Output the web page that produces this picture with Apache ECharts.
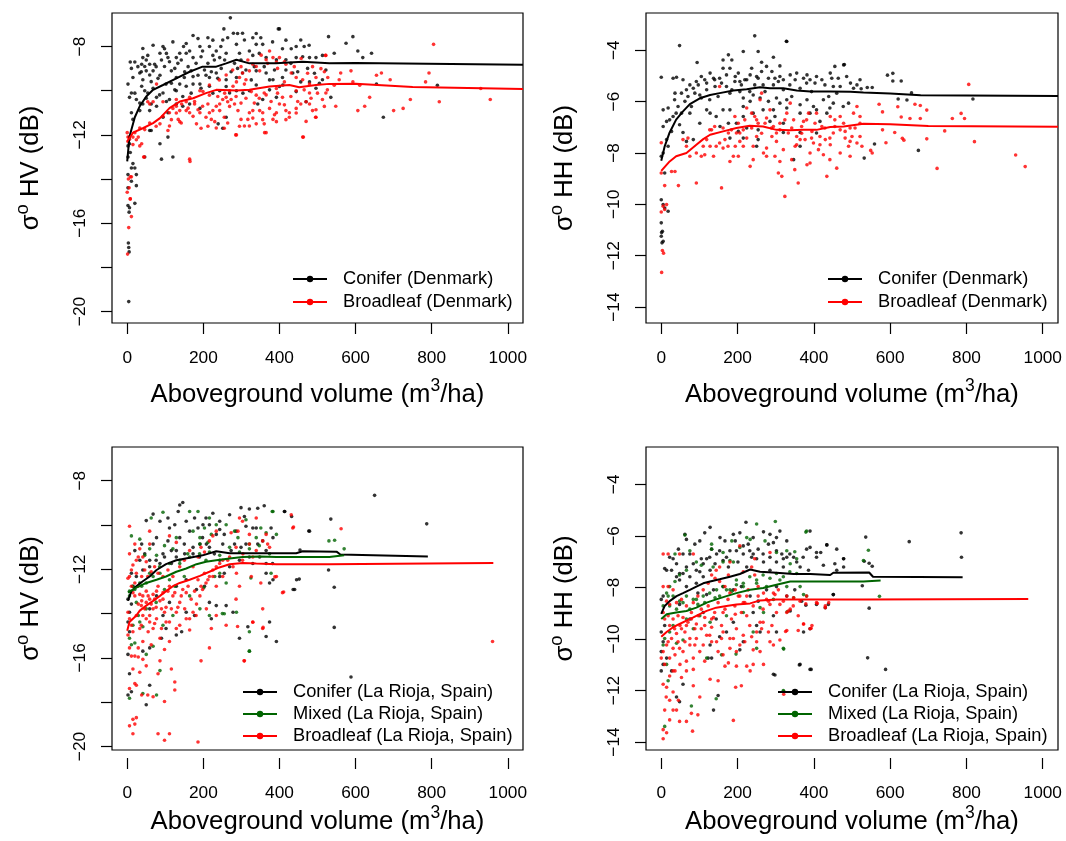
<!DOCTYPE html>
<html>
<head>
<meta charset="utf-8">
<script src="https://cdn.jsdelivr.net/npm/echarts@6/dist/echarts.min.js"></script>
<style>
  html, body { margin: 0; padding: 0; background: #fff; }
  #main { width: 1066px; height: 841px; }
</style>
</head>
<body>
<div id="main"></div>
<script>
// ---- panel 1: sigma HV, Denmark ----
const dkHvConifer = [
  [271,-6.7],[254,-7.2],[400,-7.2],[173,-7.5],[212,-7.6],[279,-7.4],[303,-7.4],[264,-7.6],[251,-7.7],[330,-7.6],[351,-7.6],[456,-7.7],
  [148,-8.0],[94,-8.0],[98,-8.1],[164,-8.2],[191,-8.0],[216,-8.0],[234,-8.2],[246,-8.0],[287,-7.9],[308,-7.7],[339,-7.9],[356,-7.9],
  [408,-8.1],[431,-8.1],[444,-8.0],[465,-8.0],[479,-8.5],[41,-8.5],[54,-8.4],[8,-8.7],[20,-8.7],[38,-8.8],[46,-8.9],[59,-8.8],[72,-8.8],
  [86,-8.3],[107,-8.5],[129,-8.5],[138,-8.3],[155,-8.3],[173,-8.5],[198,-8.2],[225,-8.4],[243,-8.5],[260,-8.3],[295,-8.3],[321,-8.2],
  [330,-8.4],[365,-8.5],[392,-8.6],[417,-8.6],[444,-8.5],[496,-8.5],[513,-8.4],
  [15,-9.4],[2,-9.7],[33,-9.2],[41,-9.5],[50,-9.1],[68,-9.1],[86,-9.3],[98,-8.9],[116,-9.1],[129,-9.4],[150,-9.4],[168,-9.1],[186,-9.3],
  [207,-9.3],[216,-9.4],[234,-9.2],[260,-9.5],[287,-9.4],[303,-9.2],[339,-9.1],[365,-9.2],[383,-9.5],[408,-9.4],[435,-9.2],[456,-9.6],
  [479,-9.6],[513,-9.5],
  [6,-10.3],[11,-10.1],[24,-10.4],[38,-9.8],[46,-10.0],[54,-10.1],[77,-10.3],[94,-10.1],[102,-9.7],[111,-10.4],[129,-10.0],[138,-9.7],
  [155,-9.8],[173,-9.7],[191,-9.7],[216,-9.8],[243,-10.0],[269,-10.1],[287,-10.0],[321,-10.0],[343,-10.6],[356,-10.4],[392,-10.3],[470,-10.5],
  [11,-11.0],[15,-11.3],[33,-10.9],[41,-10.6],[59,-10.9],[63,-10.6],[77,-10.7],[94,-11.2],[107,-11.0],[129,-10.6],[146,-10.7],[164,-10.6],
  [191,-10.8],[239,-11.5],[260,-11.2],[251,-11.7],[59,-11.8],[63,-11.8],[86,-12.4],[107,-12.1],[46,-13.0],[90,-13.1],[120,-13.0],
  [2,-12.5],[6,-12.4],[2,-13.0],[8,-12.8],[15,-13.3],[11,-13.5],[20,-13.5],[24,-13.8],[2,-13.8],[11,-14.1],[24,-14.3],[2,-14.4],
  [20,-15.1],[2,-15.2],[6,-15.3],
  [529,-7.55],[593,-7.55],[544,-8.3],[575,-7.85],[606,-8.2],[642,-8.3],[655,-9.7],[673,-11.2],[815,-9.75],[619,-8.5],[535,-10.3],
  [397,-7.2],[4,-19.55],[3,-16.9],[4,-17.1],[5,-17.3],[5,-15.5],
  [11,-8.99],[28,-8.91],[37,-9.14],[50,-8.61],[59,-9.29],[63,-9.59],[76,-8.91],[81,-9.44],[90,-8.61],[103,-8.31],[111,-8.69],[116,-9.66],
  [125,-8.99],[133,-8.76],[142,-8.61],[151,-9.14],[160,-8.91],[173,-9.36],[181,-8.76],[194,-8.46],[203,-9.06],[212,-8.76],[221,-9.14],
  [229,-8.61],[238,-9.44],[247,-8.99],[256,-8.61],[273,-9.14],[282,-8.76],[290,-8.99],[299,-8.61],[312,-9.06],[326,-9.51],[334,-8.91],
  [347,-8.31],[360,-8.91],[374,-9.51],[387,-9.06],[400,-9.81],[417,-9.06],[430,-8.76],[448,-9.14],[461,-8.46],[474,-8.99],[492,-9.21],
  [505,-9.66],[522,-9.06],[41,-8.09],[68,-7.94],[120,-7.79],[155,-7.86],[186,-7.64],[225,-7.71],[290,-7.41],[339,-7.41],[382,-7.79],
  [417,-7.71],[478,-7.94],[20,-10.11],[33,-10.56],[50,-10.34],[68,-9.89],[85,-10.19],[103,-10.49],[125,-9.96],[146,-10.26],[168,-10.11],
  [194,-9.89],[225,-10.11],[260,-9.81],[304,-10.11],[339,-9.74],[374,-9.96],[409,-9.74],[444,-10.04],[496,-9.89]
];
const dkHvBroad = [
  [0,-11.9],[2,-12.1],[6,-12.2],[15,-12.1],[20,-11.9],[29,-12.1],[33,-12.5],[38,-12.4],[43,-13.0],[8,-13.9],[11,-13.9],[8,-14.9],[0,-14.6],
  [2,-12.3],[5,-12.1],[3,-14.0],[5,-14.4],[8,-14.9],[11,-15.7],[4,-16.2],[1,-17.4],
  [54,-10.5],[59,-10.6],[77,-9.7],[86,-11.5],[107,-11.8],[111,-11.6],[134,-11.3],[138,-11.4],[164,-13.1],[138,-10.9],[155,-10.9],
  [182,-11.5],[194,-11.7],[207,-11.2],[216,-11.0],[225,-10.9],[234,-10.7],[243,-10.6],[251,-10.4],[260,-10.3],[269,-10.0],[278,-9.8],
  [287,-9.6],[295,-9.4],[303,-9.2],[312,-9.5],[321,-9.1],[330,-8.8],[339,-8.9],[348,-9.1],[365,-8.6],[374,-8.2],[383,-8.5],[392,-8.7],
  [400,-8.5],[417,-8.8],[431,-9.2],[444,-9.4],[461,-9.5],[479,-9.7],[496,-9.4],[509,-9.0],[522,-8.4],[527,-9.4],
  [111,-11.0],[120,-10.8],[129,-10.7],[143,-10.6],[155,-10.5],[164,-11.0],[177,-10.6],[191,-11.0],[198,-10.7],[212,-10.6],[221,-11.3],
  [230,-11.4],[243,-10.9],[255,-11.2],[264,-10.5],[273,-10.4],[282,-10.6],[291,-10.9],[299,-11.3],[308,-11.6],[317,-11.3],[321,-11.0],
  [330,-10.9],[339,-11.5],[348,-10.9],[356,-11.0],[365,-11.9],[374,-10.8],[383,-11.3],[392,-11.0],[400,-10.6],[408,-10.3],[417,-10.9],
  [426,-11.0],[444,-10.8],[456,-10.6],[470,-10.5],[479,-10.6],[487,-10.9],[496,-11.2],[513,-10.4],[522,-10.1],[287,-12.0],[255,-11.7],
  [321,-11.6],[360,-11.5],[392,-11.4],[426,-11.2],[461,-12.1],[308,-9.7],[339,-10.2],[360,-10.1],[392,-9.9],[413,-9.6],[444,-10.0],
  [479,-10.1],[216,-10.2],[191,-10.0],[164,-10.3],[129,-10.4],[94,-10.5],[68,-10.5],
  [805,-7.9],[793,-9.2],[784,-9.6],[691,-9.5],[668,-9.2],[655,-9.3],[637,-10.3],[624,-10.7],[606,-10.9],[700,-10.9],[725,-10.8],
  [744,-10.4],[820,-10.5],[929,-9.9],[954,-10.4],[557,-9.5],[588,-9.1],[561,-9.2],[521,-8.4],[548,-10.7],[593,-9.6],[611,-9.75],
  [544,-9.75],[495,-11.2],[463,-12.1],[361,-11.9],[285,-12.0],[165,-13.2],[45,-13.0],
  [242,-9.51],[260,-9.29],[277,-9.06],[299,-8.91],[317,-8.61],[352,-8.39],[369,-8.76],[395,-8.99],[413,-8.69],[439,-8.91],[457,-8.54],
  [474,-9.21],[487,-8.91],[518,-9.14],[216,-9.74],[199,-10.04],[177,-10.49],[160,-10.79],[129,-11.01],[116,-11.31],[94,-11.16],
  [76,-11.61],[59,-11.46],[46,-11.76],[33,-11.69],[24,-12.22],[15,-12.44],[238,-10.26],[256,-10.11],[269,-10.71],[286,-10.26],
  [299,-10.56],[312,-10.34],[326,-10.04],[334,-10.56],[347,-10.34],[365,-10.19],[378,-10.49],[395,-10.11],[413,-10.64],[430,-10.26],
  [448,-10.49],[465,-9.96],[483,-10.34],[500,-10.11],[518,-10.71],[526,-9.96],[212,-11.61],[234,-11.69],[264,-11.46],[295,-11.61],
  [330,-11.24],[356,-11.31],[387,-11.09],[417,-11.31],[444,-11.01],[470,-11.39],[496,-10.86],[173,-11.16],[186,-10.86],[142,-11.46]
];
const dkHvConiferLine = [
  [0,-13.2],[6,-12.07],[20,-11.2],[33,-10.7],[50,-10.26],[68,-9.96],[94,-9.74],[129,-9.44],[164,-9.14],[198,-8.91],[234,-8.91],
  [260,-8.76],[287,-8.6],[321,-8.76],[391,-8.76],[461,-8.69],[531,-8.76],[600,-8.74],[1040,-8.82]
];
const dkHvBroadLine = [
  [0,-12.3],[15,-11.9],[41,-11.7],[68,-11.47],[86,-11.24],[111,-10.79],[138,-10.49],[173,-10.34],[207,-10.11],[234,-9.96],[287,-9.99],
  [321,-9.96],[374,-9.81],[426,-9.74],[452,-9.84],[496,-9.74],[531,-9.69],[600,-9.68],[750,-9.83],[1040,-9.92]
];

// ---- panel 2: sigma HH, Denmark ----
const dkHhConifer = [
  [245,-3.44],[329,-3.66],[48,-3.82],[254,-4.05],[215,-4.05],[176,-4.18],[185,-4.38],[94,-4.48],[263,-4.47],[294,-4.27],[311,-4.61],
  [162,-4.38],[0,-5.05],[31,-5.09],[40,-5.05],[57,-5.15],[75,-5.35],[92,-5.22],[105,-5.02],[114,-5.15],[128,-4.89],[137,-5.09],
  [153,-5.09],[162,-4.7],[180,-4.7],[194,-5.02],[206,-5.22],[219,-5.15],[233,-4.96],[237,-4.7],[250,-5.02],[263,-4.83],[276,-4.63],
  [290,-4.83],[298,-5.09],[311,-5.02],[320,-5.15],[338,-4.96],[355,-4.89],[373,-5.09],[382,-4.96],[390,-5.15],[403,-5.28],[421,-5.15],
  [443,-4.89],[455,-4.63],[464,-5.09],[478,-4.57],[451,-5.41],[460,-5.67],[496,-5.28],[513,-5.35],
  [5,-6.32],[18,-6.25],[36,-5.67],[53,-5.67],[66,-5.54],[84,-5.48],[101,-5.74],[119,-5.54],[141,-5.41],[171,-5.41],[185,-5.54],
  [206,-5.61],[215,-5.86],[233,-5.99],[241,-5.74],[259,-5.86],[272,-5.61],[281,-5.99],[302,-5.86],[311,-6.06],[329,-5.93],[342,-5.8],
  [364,-6.12],[382,-5.93],[399,-6.19],[425,-5.93],[439,-5.8],
  [5,-6.97],[14,-6.77],[22,-6.71],[31,-6.58],[39,-6.45],[48,-6.9],[27,-7.16],[14,-7.48],[18,-7.74],[5,-8.0],[0,-8.13],[9,-8.78],
  [57,-7.2],[66,-7.55],[84,-7.48],[101,-6.84],[128,-6.45],[144,-6.58],[162,-6.32],[176,-6.84],[180,-7.42],[197,-6.84],[202,-7.16],
  [215,-6.58],[224,-7.03],[250,-7.74],[254,-7.48],[285,-6.77],[294,-6.32],[320,-7.2],[347,-8.26],[364,-7.2],[390,-6.45],[416,-6.77],
  [434,-6.45],[451,-6.06],[491,-6.06],
  [0,-9.82],[5,-10.01],[9,-10.14],[18,-10.27],[0,-10.72],[3,-11.05],[0,-11.24],[5,-11.44],[2,-11.5],[1,-11.1],
  [593,-4.97],[607,-4.9],[629,-5.2],[607,-5.2],[540,-5.45],[553,-5.45],[656,-5.66],[644,-5.94],[621,-5.9],[817,-5.9],[674,-7.9],
  [532,-8.2],[559,-7.65],[524,-5.5],[480,-4.56],[328,-3.65],
  [35,-5.93],[44,-6.19],[53,-6.45],[62,-5.99],[70,-5.8],[79,-6.19],[88,-5.67],[97,-5.35],[105,-5.86],[119,-5.28],[127,-5.93],
  [140,-5.15],[149,-5.8],[158,-5.28],[171,-4.96],[180,-5.67],[193,-5.22],[202,-4.89],[210,-5.35],[224,-5.15],[232,-5.61],[245,-5.35],
  [254,-5.09],[267,-5.35],[281,-5.09],[294,-5.35],[307,-5.22],[320,-5.54],[337,-5.35],[351,-5.15],[364,-5.48],[381,-5.28],[394,-5.61],
  [407,-5.02],[429,-5.35],[447,-5.09],[469,-5.41],[486,-5.02],[504,-5.48],[521,-5.15],[180,-6.32],[215,-6.19],[241,-6.45],[267,-6.32],
  [298,-6.58],[329,-6.25],[364,-6.45],[407,-6.32],[442,-6.25],[477,-6.19],[154,-6.97],[215,-7.42],[254,-7.1],[320,-6.84],[364,-7.74],
  [407,-7.22],[75,-6.45],[119,-6.32]
];
const dkHhBroad = [
  [0,-7.6],[0,-8.78],[9,-9.27],[5,-10.07],[14,-10.01],[9,-10.2],[0,-10.3],[3,-11.8],[6,-11.9],[1,-12.65],
  [27,-8.72],[36,-8.72],[45,-9.27],[57,-7.48],[70,-7.42],[75,-8.13],[92,-9.17],[105,-8.13],[114,-8.07],[119,-7.48],[132,-7.1],
  [137,-8.13],[144,-7.74],[153,-5.41],[158,-9.36],[162,-7.81],[167,-7.48],[180,-8.33],[189,-8.13],[197,-7.22],[206,-7.55],[215,-7.74],
  [219,-6.71],[224,-6.25],[233,-8.52],[241,-7.74],[250,-7.36],[254,-6.84],[259,-5.93],[263,-5.67],[268,-8.0],[276,-7.81],[285,-6.32],
  [294,-6.97],[302,-7.22],[307,-8.78],[316,-8.91],[320,-7.87],[324,-9.69],[329,-6.45],[338,-6.06],[347,-6.71],[351,-7.74],[359,-9.17],
  [364,-7.48],[373,-6.77],[382,-8.46],[390,-8.39],[399,-7.61],[407,-6.45],[412,-7.87],[421,-6.97],[430,-7.48],[434,-8.91],[443,-6.58],
  [451,-7.22],[460,-8.59],[469,-8.0],[478,-6.84],[491,-7.74],[500,-7.36],[513,-6.19],[521,-6.58],[526,-7.74],
  [128,-7.74],[153,-7.61],[176,-7.22],[194,-7.74],[202,-6.84],[215,-7.1],[237,-6.45],[245,-6.58],[272,-6.84],[290,-7.36],[298,-8.13],
  [311,-6.84],[333,-7.22],[342,-8.26],[355,-7.36],[368,-6.97],[377,-7.48],[386,-6.45],[395,-7.16],[416,-7.36],[425,-8.07],[443,-7.68],
  [455,-6.71],[469,-7.1],[482,-7.42],[495,-7.03],[504,-6.45],[513,-7.61],[521,-6.84],
  [806,-5.33],[696,-6.33],[679,-6.66],[652,-6.66],[629,-6.6],[665,-6.1],[679,-6.15],[620,-6.2],[580,-6.4],[580,-7.1],[589,-7.6],
  [612,-7.2],[632,-7.43],[636,-7.5],[696,-7.45],[743,-7.14],[763,-6.66],[786,-6.46],[795,-6.66],[821,-7.56],[723,-8.6],[929,-8.08],
  [954,-8.53],[553,-8.0],[571,-6.1],[549,-7.9],
  [127,-7.1],[140,-6.97],[162,-7.03],[184,-7.1],[193,-6.58],[206,-7.22],[224,-7.42],[237,-7.03],[250,-6.71],[263,-7.23],[276,-6.64],
  [289,-7.03],[302,-7.55],[311,-7.1],[324,-6.71],[342,-7.03],[355,-7.68],[368,-7.23],[381,-6.71],[394,-7.42],[403,-6.84],[416,-7.68],
  [429,-7.03],[442,-7.42],[455,-6.97],[469,-6.58],[482,-7.16],[495,-7.55],[508,-7.03],[521,-7.36],[175,-7.74],[202,-8.13],[241,-8.26],
  [276,-8.13],[311,-8.33],[350,-8.65],[390,-8.0],[442,-8.26],[495,-8.13],[92,-8.0],[110,-7.74],[66,-7.74]
];
const dkHhConiferLine = [
  [0,-8.3],[9,-7.74],[22,-7.2],[39,-6.7],[57,-6.38],[75,-6.1],[101,-5.87],[128,-5.74],[153,-5.67],[189,-5.57],[224,-5.52],[259,-5.44],
  [285,-5.48],[320,-5.48],[355,-5.57],[391,-5.61],[443,-5.61],[496,-5.62],[530,-5.65],[600,-5.68],[680,-5.75],[1040,-5.78]
];
const dkHhBroadLine = [
  [0,-8.7],[22,-8.33],[39,-8.13],[66,-8.0],[92,-7.68],[110,-7.46],[128,-7.29],[162,-7.16],[197,-7.03],[232,-6.94],[267,-6.97],
  [302,-7.1],[338,-7.12],[373,-7.1],[407,-7.1],[443,-6.99],[478,-6.97],[530,-6.86],[600,-6.88],[700,-6.95],[1040,-6.98]
];

// ---- panel 3: sigma HV, La Rioja ----
const esHvConifer = [
  [146,-9.05],[138,-9.17],[68,-9.59],[50,-9.89],[86,-9.92],[107,-9.77],[125,-10.08],[134,-9.47],[177,-9.77],[186,-10.23],[207,-9.77],
  [216,-10.08],[225,-9.55],[243,-10.3],[255,-10.53],[269,-9.62],[299,-9.29],[321,-9.35],[343,-9.32],[360,-9.2],[308,-9.7],[312,-10.15],
  [339,-10.23],[356,-10.83],[378,-10.23],[383,-10.68],[413,-9.47],[479,-10.38],[452,-12.6],[440,-13.08],[374,-12.78],[383,-12.63],
  [365,-12.33],[392,-15.49],[365,-15.26],[374,-14.59],[295,-15.34],[317,-14.81],[260,-13.83],[234,-13.83],[221,-14.44],[177,-14.29],
  [155,-14.14],[143,-15.04],[129,-15.19],[102,-14.89],[90,-15.34],[59,-15.79],[41,-15.94],[50,-18.42],[59,-17.52],[2,-17.97],
  [11,-17.82],[6,-16.99],[2,-16.09],[6,-15.04],[2,-14.59],[6,-14.14],[11,-13.76],[2,-13.53],[15,-12.93],[24,-12.48],[11,-12.33],
  [20,-11.28],[33,-11.73],[38,-10.98],[46,-11.43],[59,-11.73],[68,-10.98],[77,-10.68],[86,-11.88],[94,-11.43],[107,-10.83],[116,-11.28],
  [129,-11.58],[138,-10.68],[150,-10.98],[164,-10.38],[173,-11.43],[191,-10.98],[198,-10.68],[216,-11.13],[234,-10.53],[243,-11.73],
  [255,-12.33],[269,-12.03],[282,-10.98],[295,-11.73],[312,-10.98],[330,-11.88],[348,-11.58],[365,-11.88],[59,-13.98],[77,-13.38],
  [94,-14.29],[111,-13.68],[129,-12.93],[155,-12.63],[182,-13.08],[203,-12.93],[216,-13.68],[243,-12.48],[278,-14.14],
  [650,-8.72],[787,-10.04],[535,-9.82],[477,-10.37],[432,-9.7],[414,-9.47],[454,-11.25],[529,-12.18],[544,-12.98],[544,-14.84],
  [436,-13.08],[445,-12.63],[588,-17.14],
  [41,-12.18],[59,-12.03],[76,-11.73],[98,-11.58],[116,-11.88],[129,-11.28],[151,-11.43],[173,-11.13],[190,-11.58],[208,-10.98],
  [229,-11.43],[251,-10.98],[273,-11.28],[299,-11.13],[321,-11.58],[343,-10.98],[365,-11.28],[382,-11.88],[111,-10.23],[155,-9.92],
  [199,-10.08],[243,-9.92],[286,-10.38],[330,-10.23]
];
const esHvMixed = [
  [94,-9.5],[63,-9.77],[11,-10.6],[33,-10.75],[46,-11.5],[59,-11.2],[77,-11.5],[98,-11.05],[120,-11.2],[138,-11.88],[159,-11.43],
  [164,-9.47],[186,-9.47],[191,-10.98],[203,-10.23],[212,-10.9],[221,-10.53],[230,-12.48],[243,-12.33],[260,-12.78],[282,-10.38],
  [291,-10.68],[312,-9.85],[321,-10.98],[339,-10.68],[351,-10.23],[365,-10.45],[383,-9.47],[392,-10.53],[378,-12.33],[321,-15.04],
  [321,-15.94],[287,-14.14],[255,-14.21],[216,-14.29],[191,-13.98],[164,-13.38],[150,-12.48],[125,-12.93],[111,-12.63],[98,-13.08],
  [86,-16.84],[77,-17.97],[41,-17.9],[33,-14.59],[41,-14.81],[29,-14.29],[15,-14.74],[6,-15.34],[11,-15.64],[20,-15.56],[6,-13.38],
  [6,-13.16],[20,-13.08],[38,-12.93],[50,-12.78],[68,-12.48],[86,-12.33],[6,-18.12],[50,-16.09],[68,-15.71],[94,-14.74],[120,-14.29],
  [191,-10.68],[207,-11.73],[234,-10.08],
  [530,-10.83],[545,-10.8],[570,-11.2],[381,-9.47],[325,-12.55],[321,-15.94],[250,-14.2],[201,-13.0],
  [15,-12.93],[33,-12.78],[59,-12.33],[85,-12.03],[111,-11.88],[138,-11.73],[164,-11.58],[190,-11.43],[216,-11.35],[243,-11.5],
  [269,-11.13],[295,-11.35],[321,-11.2],[347,-11.05],[374,-11.43],[129,-10.68],[173,-10.38],[216,-9.77],[260,-10.08],[76,-13.68],
  [50,-13.98],[24,-13.68]
];
const esHvBroad = [
  [6,-10.15],[2,-12.56],[11,-12.18],[15,-11.95],[24,-11.73],[29,-11.58],[41,-11.58],[50,-11.8],[20,-13.38],[29,-13.76],[38,-13.61],
  [41,-13.38],[50,-13.68],[59,-13.53],[68,-13.31],[77,-13.16],[86,-13.61],[94,-13.23],[102,-13.91],[111,-12.93],[120,-13.38],
  [129,-14.14],[138,-13.68],[146,-13.08],[155,-13.23],[164,-14.44],[173,-14.14],[182,-13.76],[191,-13.38],[198,-13.08],[207,-12.78],
  [216,-12.48],[225,-12.18],[234,-12.93],[243,-11.88],[251,-12.48],[264,-11.73],[278,-12.03],[287,-12.33],[295,-12.93],[303,-11.73],
  [326,-12.48],[330,-14.59],[356,-14.89],[308,-16.39],[330,-11.58],[365,-10.53],[369,-10.98],[408,-13.23],[435,-10.23],[339,-9.77],
  [303,-9.92],[291,-10.38],[273,-10.45],[234,-10.38],[225,-10.6],[216,-10.83],[194,-11.13],[164,-11.28],[129,-10.9],[111,-10.6],
  [59,-10.38],[59,-10.98],[33,-11.2],[20,-10.98],[6,-11.43],[2,-14.14],[6,-14.44],[11,-14.74],[15,-15.04],[2,-15.19],[6,-15.79],
  [11,-16.17],[20,-16.17],[29,-16.21],[41,-16.32],[50,-16.62],[15,-16.77],[33,-16.92],[20,-17.44],[24,-17.52],[6,-17.67],[38,-17.97],
  [54,-17.97],[68,-18.05],[81,-16.99],[86,-16.39],[98,-15.86],[111,-15.49],[125,-17.37],[125,-17.74],[98,-18.27],[116,-16.77],
  [15,-19.1],[24,-19.02],[20,-19.32],[6,-19.4],[15,-19.77],[81,-19.77],[111,-19.77],[98,-20.07],[186,-20.15],[194,-16.39],[216,-15.79],
  [221,-14.89],[164,-14.96],[138,-14.74],[102,-14.59],[77,-14.44],[59,-14.59],[50,-14.44],[33,-14.89],[68,-14.89],[86,-15.34],
  [41,-15.49],[29,-15.79],[63,-15.64],
  [24,-12.33],[38,-12.48],[46,-12.18],[54,-12.48],[63,-12.26],[72,-12.03],[81,-12.33],[94,-12.48],[107,-12.18],[120,-12.48],
  [138,-12.03],[150,-11.73],[173,-12.03],[186,-11.58],[203,-11.35],
  [295,-9.77],[321,-10.53],[351,-12.78],[356,-13.98],[392,-12.48],[431,-9.62],
  [562,-10.27],[437,-10.19],[411,-13.2],[388,-12.5],[357,-14.84],[307,-16.39],[290,-14.8],[330,-14.6],[960,-15.49],
  [6,-12.48],[11,-12.93],[15,-13.23],[20,-12.78],[28,-12.93],[33,-13.31],[37,-13.83],[41,-14.29],[46,-13.98],[50,-13.16],[55,-13.38],
  [59,-14.29],[63,-13.76],[68,-13.98],[72,-13.53],[76,-13.91],[81,-12.93],[90,-13.98],[94,-13.53],[98,-14.14],[107,-13.16],
  [116,-13.98],[125,-13.23],[133,-13.91],[142,-13.38],[151,-13.98],[160,-12.93],[168,-13.53],[177,-13.16],[186,-12.63],[194,-12.93],
  [203,-12.33],[212,-12.63],[225,-12.48],[234,-12.03],[251,-11.73],[269,-11.58],[286,-11.13],[304,-11.43],[321,-10.98],[339,-11.28],
  [356,-10.83],[374,-11.13],[24,-14.29],[37,-14.74],[55,-15.04],[72,-14.66],[90,-14.89],[111,-14.59],[129,-14.89],[155,-14.44],
  [181,-14.29],[208,-13.98],[234,-14.29],[260,-14.74],[286,-13.53]
];
const esHvConiferLine = [
  [2,-13.6],[11,-13.16],[24,-12.93],[41,-12.7],[59,-12.48],[77,-12.18],[102,-11.91],[129,-11.73],[164,-11.61],[198,-11.5],[234,-11.31],
  [269,-11.4],[303,-11.4],[348,-11.4],[392,-11.4],[444,-11.4],[461,-11.31],[550,-11.33],[560,-11.46],[790,-11.55]
];
const esHvMixedLine = [
  [2,-13.23],[24,-13.0],[50,-12.78],[77,-12.63],[102,-12.48],[129,-12.26],[155,-12.11],[182,-11.91],[207,-11.8],[234,-11.73],
  [269,-11.65],[303,-11.58],[348,-11.55],[392,-11.58],[444,-11.58],[531,-11.58],[570,-11.5]
];
const esHvBroadLine = [
  [0,-15.0],[6,-14.59],[15,-14.44],[24,-14.29],[33,-14.06],[50,-13.83],[68,-13.61],[86,-13.38],[102,-13.16],[120,-12.93],[138,-12.78],
  [164,-12.63],[191,-12.45],[216,-12.26],[242,-12.06],[269,-11.91],[303,-11.85],[339,-11.88],[392,-11.91],[444,-11.91],[531,-11.91],
  [962,-11.85]
];

// ---- panel 4: sigma HH, La Rioja ----
const esHhConifer = [
  [128,-5.75],[114,-5.97],[62,-6.03],[66,-6.23],[45,-6.62],[57,-6.81],[75,-6.81],[88,-6.42],[105,-7.0],[119,-7.0],[132,-6.62],
  [153,-6.68],[167,-6.29],[180,-6.68],[194,-6.29],[206,-5.97],[222,-5.55],[215,-6.49],[228,-6.42],[241,-6.81],[254,-6.62],[268,-5.93],
  [281,-6.42],[294,-6.36],[302,-6.16],[311,-5.9],[316,-6.81],[329,-6.94],[347,-6.94],[381,-6.62],[390,-5.9],[407,-6.94],[434,-6.45],
  [460,-6.62],[478,-7.0],[451,-8.43],[430,-8.95],[390,-9.79],[373,-9.92],[364,-11.21],[390,-11.41],[294,-11.6],[302,-9.92],[259,-9.92],
  [250,-9.66],[215,-10.31],[206,-10.63],[189,-9.53],[171,-9.92],[153,-10.11],[128,-10.44],[132,-10.96],[123,-10.96],[137,-13.03],
  [149,-12.45],[57,-12.0],[48,-12.7],[40,-12.51],[27,-11.47],[14,-10.96],[0,-11.47],[5,-11.21],[0,-10.7],[5,-10.31],[0,-9.92],
  [9,-9.66],[0,-8.62],[5,-8.49],[9,-7.39],[14,-7.46],[27,-7.46],[22,-6.94],[31,-7.0],[40,-7.2],[48,-7.59],[66,-7.33],[84,-7.2],
  [101,-7.52],[110,-7.72],[128,-7.46],[141,-7.2],[162,-7.07],[176,-7.33],[201,-7.13],[224,-7.33],[237,-6.94],[268,-7.13],[285,-7.46],
  [302,-7.13],[320,-7.33],[364,-7.33],[386,-7.46],[425,-7.26],[460,-7.46],[478,-7.33],[48,-7.85],[66,-8.11],[92,-7.98],[96,-8.37],
  [119,-8.43],[137,-8.24],[162,-8.11],[189,-8.24],[210,-8.11],[233,-8.49],[254,-8.69],[276,-8.24],[302,-8.11],[329,-8.49],[350,-8.24],
  [368,-8.69],[407,-8.82],[48,-8.82],[75,-9.4],[110,-9.14],[144,-9.4],[241,-9.14],[294,-9.27],[338,-9.08],
  [536,-6.14],[650,-6.32],[786,-5.97],[787,-6.94],[545,-7.18],[553,-7.3],[532,-7.1],[478,-7.0],[455,-7.2],[434,-6.45],[418,-6.75],
  [527,-8.08],[545,-8.97],[541,-10.95],[588,-11.41],[393,-11.41],[362,-11.23],[298,-11.63],[438,-8.82],[451,-8.43],[379,-8.85],
  [40,-7.72],[57,-7.59],[75,-7.72],[92,-7.46],[110,-7.2],[127,-6.94],[145,-6.81],[171,-6.94],[197,-6.68],[215,-6.81],[232,-6.68],
  [250,-7.0],[267,-6.81],[285,-6.94],[302,-6.68],[320,-7.0],[337,-6.81],[355,-7.13],[372,-6.94],[390,-6.55],[407,-6.75],[101,-6.29],
  [154,-6.16],[189,-6.03],[241,-6.16],[285,-6.03],[329,-6.29]
];
const esHhMixed = [
  [62,-6.06],[132,-6.62],[162,-6.75],[132,-6.42],[206,-6.55],[250,-5.62],[299,-5.52],[350,-6.72],[329,-6.68],[355,-7.0],[381,-5.9],
  [233,-6.23],[189,-7.13],[162,-7.13],[105,-7.26],[92,-7.13],[66,-7.46],[48,-7.65],[36,-7.91],[22,-8.11],[14,-8.37],[5,-8.88],
  [18,-8.49],[31,-8.49],[48,-8.69],[66,-8.49],[84,-8.62],[96,-8.82],[114,-8.75],[141,-8.56],[153,-8.49],[171,-8.24],[185,-8.3],
  [197,-8.04],[215,-8.11],[250,-7.98],[276,-8.11],[311,-7.85],[329,-8.11],[364,-8.11],[373,-8.43],[381,-8.49],[347,-8.56],[294,-8.62],
  [259,-8.95],[215,-9.14],[171,-9.27],[128,-9.53],[84,-9.79],[57,-10.24],[40,-10.37],[22,-9.92],[9,-10.18],[5,-10.44],[14,-11.21],
  [18,-11.86],[9,-13.68],[79,-12.87],[144,-12.58],[119,-10.96],[158,-10.83],[241,-9.92],[268,-9.14],[320,-10.57],[320,-12.25],
  [338,-7.2],[302,-6.75],[272,-6.29],[224,-6.16],[185,-6.29],[75,-6.68],[36,-6.81],
  [379,-5.94],[543,-6.66],[530,-7.07],[572,-8.5],[321,-10.6],[321,-12.28],[330,-9.11],[250,-10.57],[196,-10.8],
  [22,-8.88],[40,-9.01],[57,-8.75],[75,-9.01],[92,-8.62],[110,-8.49],[127,-8.37],[145,-8.24],[162,-8.11],[180,-8.24],[197,-7.85],
  [215,-7.98],[232,-7.72],[250,-7.85],[267,-7.65],[285,-7.78],[302,-7.59],[320,-7.72],[337,-7.52],[355,-7.59],[31,-9.66],[66,-9.4],
  [101,-9.27],[136,-7.33],[180,-7.07]
];
const esHhBroad = [
  [5,-6.81],[18,-6.81],[48,-6.81],[5,-8.11],[18,-8.11],[31,-8.24],[14,-8.69],[22,-8.82],[40,-8.75],[53,-8.62],[66,-8.88],[84,-8.75],
  [96,-8.49],[110,-8.24],[123,-7.98],[132,-7.65],[141,-7.78],[153,-7.91],[167,-8.11],[180,-8.37],[194,-8.24],[206,-8.49],[215,-8.75],
  [224,-8.49],[237,-7.33],[245,-7.65],[254,-8.11],[268,-8.37],[276,-8.62],[285,-8.82],[298,-8.43],[307,-8.24],[320,-8.69],[333,-9.08],
  [347,-8.56],[359,-9.86],[373,-9.6],[390,-9.79],[395,-9.66],[407,-8.75],[430,-8.88],[439,-8.75],[338,-9.01],[329,-9.14],[302,-9.14],
  [290,-9.66],[281,-9.92],[263,-9.79],[250,-10.31],[237,-10.11],[219,-10.31],[206,-10.44],[197,-10.7],[180,-10.57],[167,-11.28],
  [176,-11.15],[197,-11.28],[224,-11.28],[241,-11.21],[162,-10.83],[149,-10.7],[132,-10.31],[119,-10.05],[105,-9.79],[92,-9.6],
  [79,-9.4],[66,-9.66],[53,-9.79],[40,-9.98],[27,-10.18],[14,-10.44],[5,-10.7],[0,-10.96],[9,-11.21],[22,-10.96],[36,-10.83],
  [48,-10.57],[62,-10.31],[75,-10.18],[88,-10.44],[101,-10.7],[114,-11.08],[84,-11.41],[66,-11.47],[53,-11.73],[36,-11.47],
  [22,-11.67],[5,-12.0],[14,-12.12],[31,-12.31],[45,-12.64],[22,-12.64],[9,-13.03],[40,-13.03],[22,-13.42],[5,-13.81],[14,-13.93],
  [5,-14.17],[66,-13.48],[79,-13.16],[96,-13.22],[82,-13.87],[48,-13.48],[189,-13.44],[101,-12.51],[84,-12.06],[128,-11.8],
  [149,-11.86],[195,-12.12],[210,-12.06],[233,-11.47],[268,-11.21],[294,-10.44],[311,-10.24],[329,-9.86],[359,-9.27],[285,-10.31],
  [259,-10.7],[241,-10.63],[189,-10.18],[158,-10.18],[132,-9.73],[114,-9.34],[137,-9.34],[162,-9.14],[194,-9.21],[224,-9.27],
  [259,-9.53],[144,-7.46],[176,-7.65],[215,-7.52],[245,-7.0],[206,-6.49],[180,-7.13],[153,-7.33],[285,-6.75],[84,-6.81],
  [379,-8.8],[393,-9.77],[373,-9.6],[326,-9.9],[430,-8.95],[409,-8.78],[321,-12.4],
  [5,-9.14],[9,-9.4],[18,-9.27],[22,-9.66],[31,-9.4],[35,-9.79],[44,-9.27],[49,-9.66],[57,-9.34],[62,-9.92],[70,-9.53],[79,-9.14],
  [88,-9.79],[97,-9.27],[105,-9.01],[114,-9.66],[123,-8.88],[132,-9.4],[140,-9.14],[149,-8.75],[158,-9.66],[167,-9.01],[175,-8.62],
  [184,-9.4],[193,-8.88],[202,-8.49],[210,-9.14],[219,-8.75],[228,-8.24],[241,-8.88],[254,-8.49],[267,-9.01],[281,-8.69],[294,-8.37],
  [311,-8.82],[329,-8.49],[346,-8.88],[364,-8.69],[381,-8.49],[18,-10.31],[31,-10.57],[44,-10.31],[57,-10.7],[75,-10.44],[92,-10.18],
  [110,-10.44],[127,-10.05],[145,-10.31],[162,-9.92],[180,-10.18],[197,-9.79],[215,-10.05],[232,-9.66],[250,-9.92],[267,-9.53],
  [31,-11.47],[49,-11.21],[66,-11.08],[84,-10.96],[13,-12.51],[31,-13.03]
];
const esHhConiferLine = [
  [0,-9.2],[9,-8.88],[22,-8.69],[40,-8.49],[57,-8.37],[75,-8.24],[92,-8.11],[110,-7.98],[128,-7.91],[153,-7.82],[180,-7.72],
  [206,-7.61],[233,-7.43],[259,-7.52],[302,-7.56],[347,-7.61],[391,-7.61],[443,-7.65],[451,-7.56],[545,-7.55],[555,-7.72],[790,-7.74]
];
const esHhMixedLine = [
  [0,-9.4],[14,-9.21],[39,-9.14],[66,-9.08],[92,-8.95],[119,-8.75],[144,-8.62],[171,-8.49],[197,-8.37],[233,-8.24],[267,-8.17],
  [302,-8.04],[338,-7.91],[373,-7.91],[443,-7.91],[530,-7.91],[575,-7.87]
];
const esHhBroadLine = [
  [0,-10.11],[14,-9.92],[31,-9.73],[48,-9.6],[66,-9.47],[84,-9.34],[101,-9.21],[119,-9.08],[144,-8.95],[171,-8.88],[197,-8.82],
  [233,-8.78],[259,-8.66],[302,-8.62],[347,-8.62],[434,-8.62],[530,-8.62],[962,-8.6]
];

const FONT = "'Liberation Sans', Arial, Helvetica, sans-serif";
const BLACK = '#000000';
const RED = '#ff0000';
const GREEN = '#006400';

// plot boxes (px) and their value ranges; R pads xlim c(0,1000) by 4 %
const boxes = [
  {left: 112, top: 13, width: 411, height: 310, yMin: -20.52, yMax: -6.48, tMin: -20, tMax: -8, pol: 'HV', every4: true},
  {left: 646, top: 13, width: 412, height: 310, yMin: -14.62, yMax: -2.55, tMin: -14, tMax: -4, pol: 'HH', every4: false},
  {left: 112, top: 447, width: 411, height: 311, yMin: -20.52, yMax: -6.48, tMin: -20, tMax: -8, pol: 'HV', every4: true},
  {left: 646, top: 447, width: 412, height: 311, yMin: -14.62, yMax: -2.55, tMin: -14, tMax: -4, pol: 'HH', every4: false}
];
const X_MIN = -40, X_MAX = 1040;

const minus = v => String(v).replace('-', '\u2212');
const supStyle = size => ({fontSize: size, lineHeight: 16, verticalAlign: 'top', color: BLACK, fontFamily: FONT});
const tickStyle = {show: true, inside: false, length: 11, lineStyle: {color: BLACK, width: 1.2}};
const hidden = {show: false};

const grid = [], xAxis = [], yAxis = [];

// boxed plot grids (index 0-3): hold the data and the axis titles
boxes.forEach((b, i) => {
  grid.push({left: b.left, top: b.top, width: b.width, height: b.height, show: true,
    borderColor: BLACK, borderWidth: 1.2, backgroundColor: 'transparent'});
  xAxis.push({
    type: 'value', gridIndex: i, min: X_MIN, max: X_MAX,
    axisLine: {show: false, onZero: false}, axisTick: hidden, axisLabel: hidden, splitLine: hidden,
    name: 'Aboveground volume (m{sup|3}/ha)', nameLocation: 'middle', nameGap: 54,
    nameTextStyle: {fontSize: 25.7, color: BLACK, fontFamily: FONT, lineHeight: 36, rich: {sup: supStyle(17.5)}}
  });
  yAxis.push({
    type: 'value', gridIndex: i, min: b.yMin, max: b.yMax,
    axisLine: {show: false, onZero: false}, axisTick: hidden, axisLabel: hidden, splitLine: hidden,
    name: '\u03c3{sup|o} ' + b.pol + ' (dB)', nameLocation: 'middle', nameRotate: 90, nameGap: 63,
    nameTextStyle: {fontSize: 25.7, color: BLACK, fontFamily: FONT, lineHeight: 36, rich: {sup: supStyle(18.5)}}
  });
});

// tick grids for the volume axis (index 4-7): span exactly 0..1000
boxes.forEach((b, i) => {
  const pxPer = b.width / (X_MAX - X_MIN);
  grid.push({left: b.left - X_MIN * pxPer, top: b.top, width: 1000 * pxPer, height: b.height});
  xAxis.push({
    type: 'value', gridIndex: 4 + i, min: 0, max: 1000, interval: 200, position: 'bottom',
    axisLine: {show: false, onZero: false}, axisTick: tickStyle, splitLine: hidden,
    axisLabel: {margin: 27, fontSize: 17.3, color: BLACK, fontFamily: FONT, formatter: v => String(v)}
  });
  yAxis.push({type: 'value', gridIndex: 4 + i, min: 0, max: 1, show: false});
});

// tick grids for the backscatter axis (index 8-11): span exactly tMin..tMax
boxes.forEach((b, i) => {
  const pxPer = b.height / (b.yMax - b.yMin);
  grid.push({left: b.left, top: b.top + (b.yMax - b.tMax) * pxPer, width: b.width, height: (b.tMax - b.tMin) * pxPer});
  xAxis.push({type: 'value', gridIndex: 8 + i, min: 0, max: 1, show: false});
  yAxis.push({
    type: 'value', gridIndex: 8 + i, min: b.tMin, max: b.tMax, interval: 2, position: 'left',
    axisLine: {show: false, onZero: false}, axisTick: tickStyle, splitLine: hidden,
    axisLabel: {rotate: 90, margin: 23, fontSize: 17.3, color: BLACK, fontFamily: FONT,
      formatter: v => (!b.every4 || v % 4 === 0) ? minus(v) : ''}
  });
});

function pts(name, i, data, color) {
  return {
    name: name, type: 'scatter', xAxisIndex: i, yAxisIndex: i, data: data,
    symbol: 'circle', symbolSize: 3.6, itemStyle: {color: color}, silent: true, z: 2
  };
}

function curve(name, i, data, color) {
  return {
    name: name, type: 'line', xAxisIndex: i, yAxisIndex: i, data: data,
    showSymbol: false, symbol: 'circle', symbolSize: 6,
    lineStyle: {color: color, width: 2}, itemStyle: {color: color}, silent: true, z: 3
  };
}

function legendFor(left, top, names, gap) {
  return {
    left: left, top: top, orient: 'vertical', padding: 0, itemWidth: 34, itemHeight: 8, itemGap: gap,
    selectedMode: false, data: names,
    textStyle: {fontSize: 18.3, lineHeight: 18, color: BLACK, fontFamily: FONT, padding: [0, 0, 0, 11]}
  };
}

const nDkCon = 'Conifer (Denmark)', nDkBro = 'Broadleaf (Denmark)';
const nEsCon = 'Conifer (La Rioja, Spain)', nEsMix = 'Mixed (La Rioja, Spain)', nEsBro = 'Broadleaf (La Rioja, Spain)';

const option = {
  animation: false,
  backgroundColor: '#ffffff',
  grid: grid,
  xAxis: xAxis,
  yAxis: yAxis,
  legend: [
    legendFor(292, 270, [nDkCon, nDkBro], 5),
    legendFor(827, 270, [nDkCon, nDkBro], 5),
    legendFor(242, 683, [nEsCon, nEsMix, nEsBro], 4),
    legendFor(777, 683, [nEsCon, nEsMix, nEsBro], 4)
  ],
  series: [
    curve(nDkCon, 0, dkHvConiferLine, BLACK),
    curve(nDkBro, 0, dkHvBroadLine, RED),
    pts('dk hv conifer pts', 0, dkHvConifer, BLACK),
    pts('dk hv broadleaf pts', 0, dkHvBroad, RED),

    curve(nDkCon, 1, dkHhConiferLine, BLACK),
    curve(nDkBro, 1, dkHhBroadLine, RED),
    pts('dk hh conifer pts', 1, dkHhConifer, BLACK),
    pts('dk hh broadleaf pts', 1, dkHhBroad, RED),

    curve(nEsCon, 2, esHvConiferLine, BLACK),
    curve(nEsMix, 2, esHvMixedLine, GREEN),
    curve(nEsBro, 2, esHvBroadLine, RED),
    pts('es hv conifer pts', 2, esHvConifer, BLACK),
    pts('es hv mixed pts', 2, esHvMixed, GREEN),
    pts('es hv broadleaf pts', 2, esHvBroad, RED),

    curve(nEsCon, 3, esHhConiferLine, BLACK),
    curve(nEsMix, 3, esHhMixedLine, GREEN),
    curve(nEsBro, 3, esHhBroadLine, RED),
    pts('es hh conifer pts', 3, esHhConifer, BLACK),
    pts('es hh mixed pts', 3, esHhMixed, GREEN),
    pts('es hh broadleaf pts', 3, esHhBroad, RED)
  ]
};

const chart = echarts.init(document.getElementById('main'), null, {renderer: 'canvas'});
chart.setOption(option);
</script>
</body>
</html>
